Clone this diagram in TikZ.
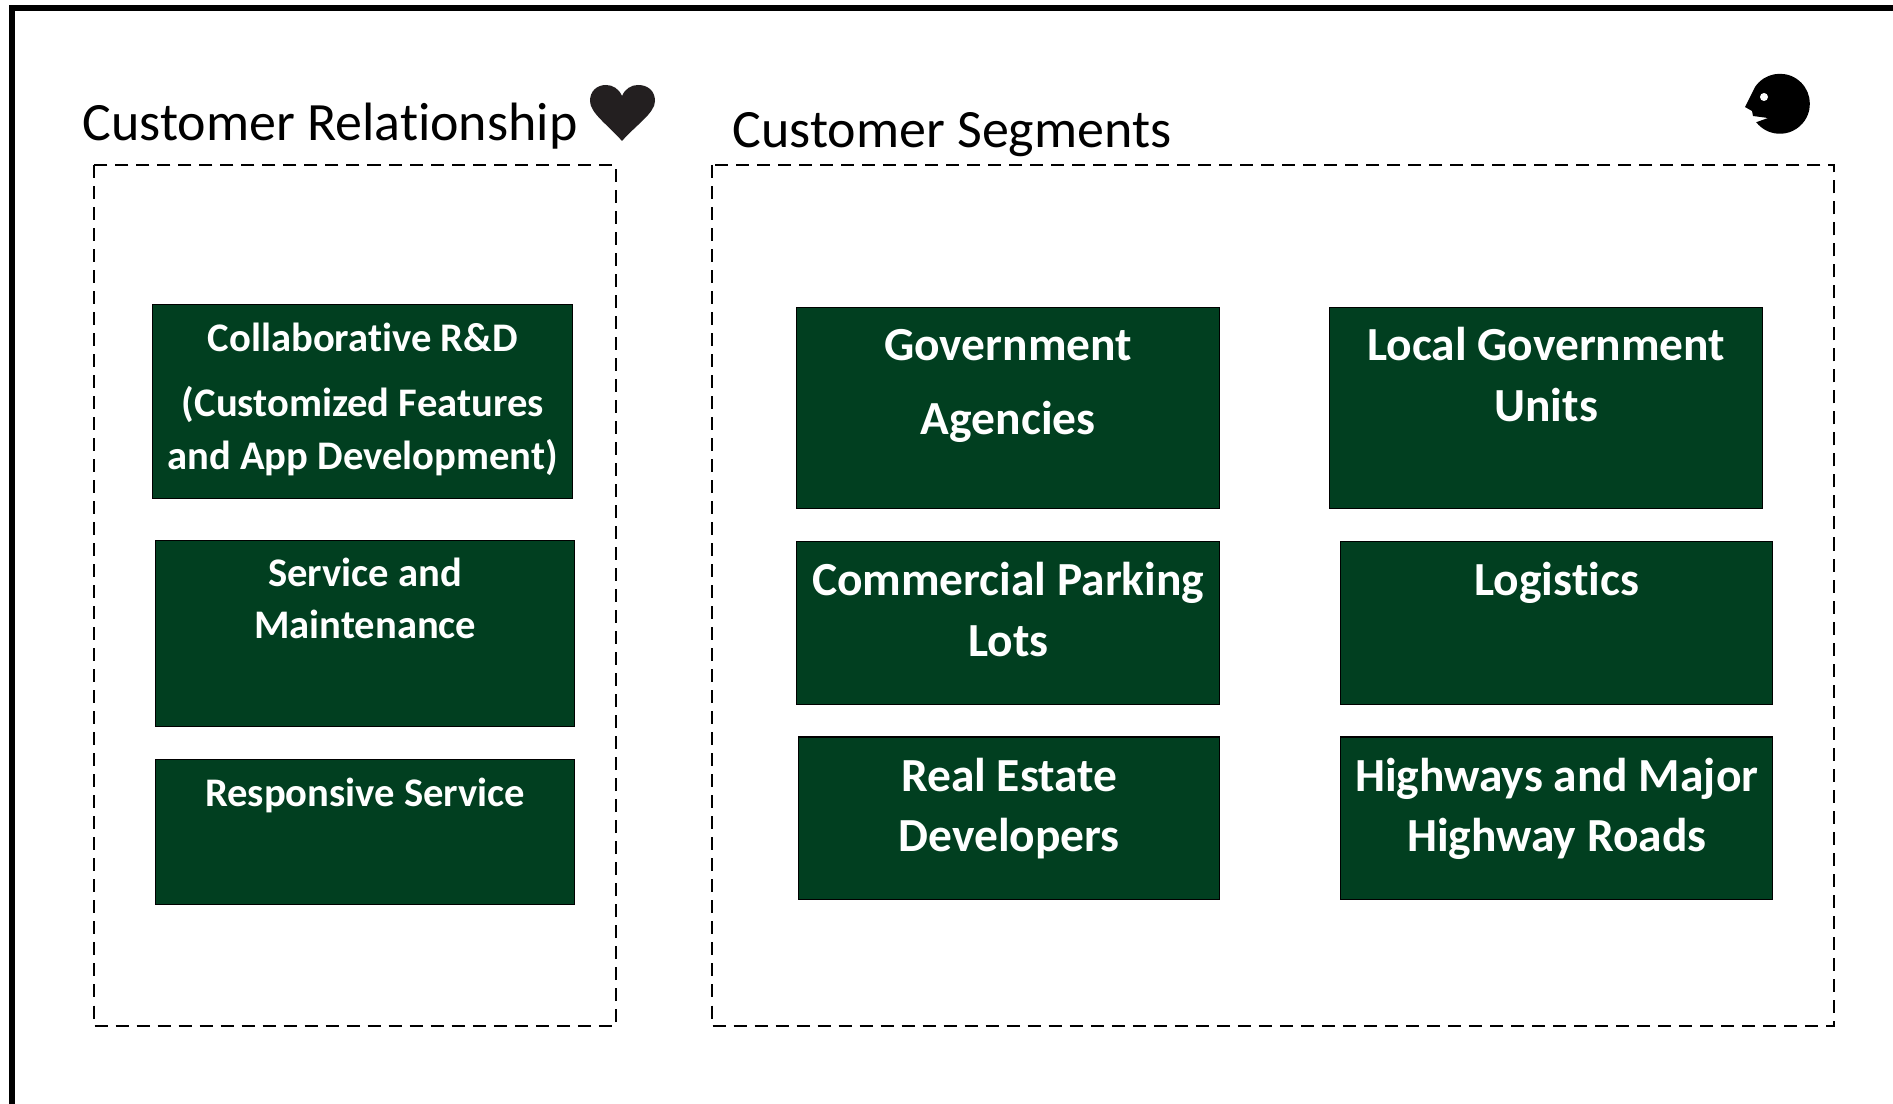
\documentclass[tikz,border=0pt]{standalone}
\usepackage{fontspec}
\setmainfont[RawFeature=-liga]{Carlito}
\definecolor{darkgreen}{HTML}{013F20}
\definecolor{heartblack}{HTML}{231F20}
\tikzset{
	greenbox/.style={draw=black,line width=0.35pt,fill=darkgreen,anchor=north west,inner sep=0pt},
	smalltext/.style={anchor=north,text=white,font=\fontsize{11.55}{14.8}\selectfont\bfseries,align=center},
	bigtext/.style={anchor=north,text=white,font=\fontsize{13.5}{17.4}\selectfont\bfseries,align=center},
	dashbox/.style={draw=black,line width=0.55pt,dash pattern=on 0.13cm off 0.08cm},
	paneltitle/.style={font=\fontsize{15.35}{19}\selectfont,inner sep=0pt}
}
\begin{document}
\begin{tikzpicture}[x=0.01cm,y=-0.01cm]
	\useasboundingbox (0,0) rectangle (1893,1104);
	\fill[white] (0,0) rectangle (1893,1104);
	\draw[line width=1.7pt] (12,1104) -- (12,8) -- (1893,8);
	\draw[dashbox] (94,165) rectangle (616,1026);
	\draw[dashbox] (712,165) rectangle (1834,1026);
	\node[paneltitle] (relationship) at (330,126) {Customer Relationship};
	\node[paneltitle] (segments) at (952,135) {Customer Segments};
	\fill[heartblack] (622,141) .. controls (608,125) and (590,113) .. (590,101)
		.. controls (590,91) and (597,85) .. (606,85)
		.. controls (613,85) and (619,89) .. (622,96)
		.. controls (625,89) and (631,85) .. (638,85)
		.. controls (648,85) and (655,91) .. (655,101)
		.. controls (655,113) and (636,125) .. (622,141) -- cycle;
	\fill[black] (1755,87) arc[start angle=214,end angle=502,radius=30]
		-- (1768,118) -- (1753,116) -- (1752,111) -- (1745,107) -- cycle;
	\fill[white] (1764,97) circle[radius=4];
	\node[greenbox,minimum width=4.20cm,minimum height=1.94cm,label={[smalltext,yshift=-0.07cm]north:Collaborative R\&D\\[0.13cm](Customized Features\\and App Development)}] (rnd) at (152,304) {};
	\node[greenbox,minimum width=4.19cm,minimum height=1.86cm,label={[smalltext,yshift=-0.06cm]north:Service and\\Maintenance}] (service) at (155,540) {};
	\node[greenbox,minimum width=4.19cm,minimum height=1.45cm,label={[smalltext,yshift=-0.07cm]north:Responsive Service}] (responsive) at (155,759) {};
	\node[greenbox,minimum width=4.23cm,minimum height=2.01cm,label={[bigtext,yshift=-0.10cm]north:Government\\[0.125cm]Agencies}] (government) at (796,307) {};
	\node[greenbox,minimum width=4.33cm,minimum height=2.01cm,label={[bigtext,yshift=-0.08cm]north:Local Government\\Units}] (localgov) at (1329,307) {};
	\node[greenbox,minimum width=4.23cm,minimum height=1.63cm,label={[bigtext,yshift=-0.09cm]north:Commercial Parking\\Lots}] (parking) at (796,541) {};
	\node[greenbox,minimum width=4.32cm,minimum height=1.63cm,label={[bigtext,yshift=-0.09cm]north:Logistics}] (logistics) at (1340,541) {};
	\node[greenbox,minimum width=4.21cm,minimum height=1.62cm,label={[bigtext,yshift=-0.09cm]north:Real Estate\\[-0.01cm]Developers}] (realestate) at (798,736.5) {};
	\node[greenbox,minimum width=4.32cm,minimum height=1.62cm,label={[bigtext,yshift=-0.09cm]north:Highways and Major\\[-0.01cm]Highway Roads}] (highways) at (1340,736.5) {};
\end{tikzpicture}
\end{document}
